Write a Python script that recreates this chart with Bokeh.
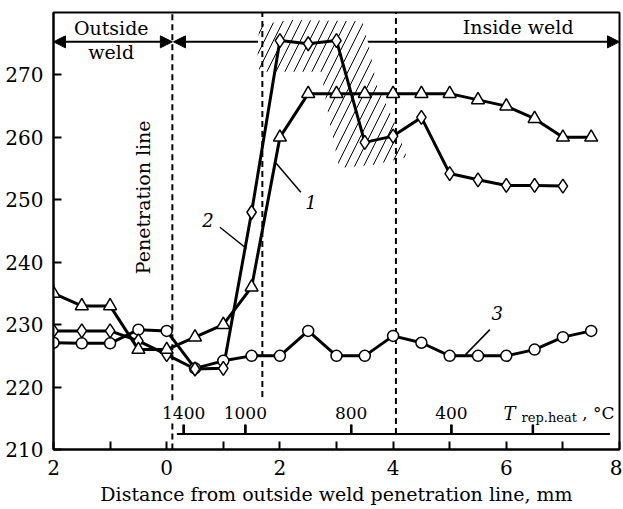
import math
from bokeh.plotting import figure
from bokeh.models import Range1d, FixedTicker, Arrow, NormalHead
from bokeh.core.properties import value
from bokeh.embed import file_html
from bokeh.resources import INLINE

# ---- data ----
x_curve1 = [-2, -1.5, -1, -0.5, 0, 0.5, 1, 1.5, 2, 2.5, 3, 3.5, 4, 4.5, 5, 5.5, 6, 6.5, 7, 7.5]
hv_curve1 = [235, 233, 233, 226, 226, 228, 230, 236, 260, 267, 267, 267, 267, 267, 267, 266, 265, 263, 260, 260]

x_curve2 = [-2, -1.5, -1, -0.5, 0, 0.5, 1, 1.5, 2, 2.5, 3, 3.5, 4, 4.5, 5, 5.5, 6, 6.5, 7]
hv_curve2 = [229, 229, 229, 227.4, 225.2, 222.9, 223, 248, 275.5, 275, 275.5, 259.2, 260.2, 263.2, 254.2, 253.2, 252.3, 252.3, 252.2]

x_curve3 = [-2, -1.5, -1, -0.5, 0, 0.5, 1, 1.5, 2, 2.5, 3, 3.5, 4, 4.5, 5, 5.5, 6, 6.5, 7, 7.5]
hv_curve3 = [227.1, 227, 227, 229.2, 229, 223, 224.2, 225, 225, 229, 225, 225, 228.2, 227.1, 225, 225, 225, 226, 228, 229]

x_ticks = [-2, -1, 0, 1, 2, 3, 4, 5, 6, 7, 8]
x_tick_labels = ["2", "", "0", "", "2", "", "4", "", "6", "", "8"]
y_ticks = [210, 220, 230, 240, 250, 260, 270]

temp_tick_x = [0.30, 1.39, 3.26, 5.03, 6.47]
temp_label_x = [0.30, 1.39, 3.26, 5.03]
temp_labels = ["1400", "1000", "800", "400"]

FONT = value("DejaVu Serif")

p = figure(width=622, height=508, output_backend="svg", toolbar_location=None,
           x_range=Range1d(-2, 8), y_range=Range1d(210, 280),
           min_border_left=53, min_border_right=3, min_border_top=12, min_border_bottom=59)
p.xgrid.visible = False
p.ygrid.visible = False
p.outline_line_color = "black"
p.outline_line_width = 2
p.outline_line_alpha = 1
p.background_fill_color = "white"
p.border_fill_color = "white"

for ax in (p.xaxis[0], p.yaxis[0]):
    ax.axis_line_width = 2
    ax.axis_line_color = "black"
    ax.major_tick_line_width = 2
    ax.major_tick_line_color = "black"
    ax.major_tick_in = 8
    ax.major_tick_out = 0
    ax.minor_tick_line_color = None
    ax.major_label_text_font = "DejaVu Serif"
    ax.major_label_text_font_size = "20px"
    ax.major_label_text_color = "black"
    ax.major_label_standoff = 10

p.xaxis.ticker = FixedTicker(ticks=x_ticks)
p.xaxis.major_label_overrides = dict(zip(x_ticks, x_tick_labels))
p.yaxis.ticker = FixedTicker(ticks=y_ticks)
p.xaxis.axis_label = "Distance from outside weld penetration line, mm"
p.xaxis.axis_label_text_font = "DejaVu Serif"
p.xaxis.axis_label_text_font_size = "19px"
p.xaxis.axis_label_text_font_style = "normal"
p.xaxis.axis_label_text_color = "black"
p.xaxis.axis_label_standoff = 5

# ---- region arrows (below everything) ----
head = dict(size=12, fill_color="black", line_color="black")
p.add_layout(Arrow(x_start=-2, y_start=275.3, x_end=0.1, y_end=275.3,
                   start=NormalHead(**head), end=NormalHead(**head),
                   line_width=2, line_color="black", level="underlay"))
p.add_layout(Arrow(x_start=0.12, y_start=275.3, x_end=8, y_end=275.3,
                   start=NormalHead(**head), end=NormalHead(**head),
                   line_width=2, line_color="black", level="underlay"))

# ---- hatched zone ----
hx = [1.64, 2.17, 3.45, 3.57, 3.71, 4.01, 4.24, 3.66, 3.05, 2.87, 2.73, 1.64, 1.60]
hy = [278.0, 278.8, 278.6, 274.8, 268.4, 262.8, 256.8, 255.6, 255.1, 262.8, 270.5, 270.5, 274.0]
p.patch(hx, hy, fill_color="white", line_color=None,
        hatch_pattern="/", hatch_scale=18, hatch_weight=1, hatch_color="black")

# ---- dashed verticals ----
p.segment(x0=[0.1, 0.1, 1.69, 4.05], y0=[217.9, 210, 218.4, 212.5],
          x1=[0.1, 0.1, 1.69, 4.05], y1=[280, 214.4, 280, 280],
          line_dash="6 4", line_width=2, line_color="black")

# ---- temperature scale labels ----
p.text(x=temp_label_x, y=[215.8] * len(temp_label_x), text=temp_labels, text_font=FONT,
       text_font_size="17px", text_align="center", text_baseline="middle", text_color="black")
p.text(x=[5.95], y=[215.8], text=["T"], text_font=FONT, text_font_size="18px",
       text_font_style="italic", text_align="left", text_baseline="middle", text_color="black")
p.text(x=[6.27], y=[215.1], text=["rep.heat"], text_font=FONT, text_font_size="13px",
       text_align="left", text_baseline="middle", text_color="black")
p.text(x=[7.34], y=[215.8], text=[", °C"], text_font=FONT, text_font_size="17px",
       text_align="left", text_baseline="middle", text_color="black")

# ---- temperature scale line with upward ticks ----
scale_x = [0.18]
scale_y = [212.5]
for t in temp_tick_x:
    scale_x += [t, t, t]
    scale_y += [212.5, 214.0, 212.5]
scale_x.append(7.83)
scale_y.append(212.5)
p.line(scale_x, scale_y, line_width=2, line_color="black", line_join="miter")
p.rect(x=temp_tick_x, y=[213.25] * len(temp_tick_x), width=2.5, height=9,
       width_units="screen", height_units="screen", fill_color="black", line_color=None)

# ---- curves ----
mk = dict(fill_color="white", line_color="black", line_width=1.5)
p.line(x_curve3, hv_curve3, line_width=3, line_color="black")
p.line(x_curve2, hv_curve2, line_width=3, line_color="black")
p.line(x_curve1, hv_curve1, line_width=3, line_color="black")
p.scatter(x_curve3, hv_curve3, marker="circle", size=11, **mk)
p.scatter(x_curve2, hv_curve2, marker="diamond", size=14, **mk)
p.scatter(x_curve1, hv_curve1, marker="triangle", size=13, **mk)

# ---- curve number labels ----
p.segment(x0=[1.93, 0.94, 5.71], y0=[255.9, 245.6, 229.2], x1=[2.37, 1.41, 5.28], y1=[251.2, 242.2, 225.2],
          line_width=1.5, line_color="black")
p.text(x=[2.55, 0.73, 5.84], y=[249.6, 246.7, 231.9], text=["1", "2", "3"], text_font=FONT,
       text_font_size="18px", text_font_style="italic", text_align="center", text_baseline="middle",
       text_color="black")

# ---- region texts ----
p.text(x=[-0.98, -0.98], y=[277.5, 273.7], text=["Outside", "weld"], text_font=FONT,
       text_font_size="19px", text_align="center", text_baseline="middle", text_color="black")
p.text(x=[6.21], y=[277.6], text=["Inside weld"], text_font=FONT,
       text_font_size="19px", text_align="center", text_baseline="middle", text_color="black")
p.text(x=[-0.42], y=[250.4], text=["Penetration line"], angle=math.pi / 2, text_font=FONT,
       text_font_size="19px", text_align="center", text_baseline="middle", text_color="black")

open("out.html", "w").write(file_html(p, INLINE))
